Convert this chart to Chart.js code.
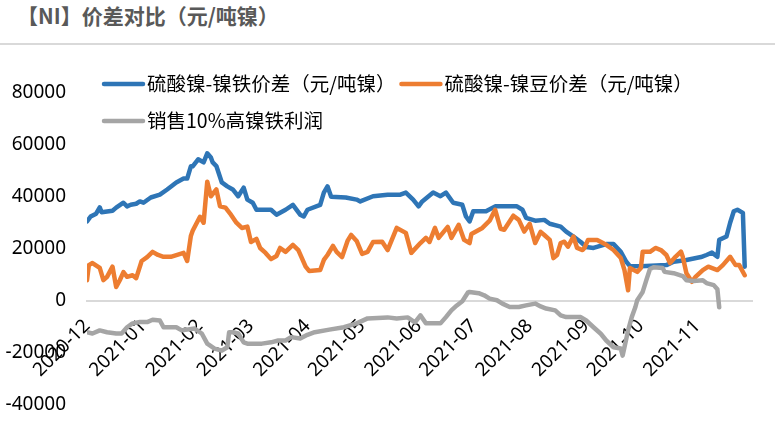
<!DOCTYPE html>
<html lang="zh">
<head>
    <meta charset="UTF-8">
    <title>【NI】价差对比（元/吨镍）</title>
    <script src="https://cdn.jsdelivr.net/npm/chart.js"></script>
    <style>
        body { margin: 0; background: #fff; }
        .head {
            height: 43px; line-height: 42px; padding-left: 17px;
            border-bottom: 2px solid #d9d9d9;
            font: bold 21px 'Noto Sans CJK SC', sans-serif; color: #595959;
        }
        #chart { display: block; }
    </style>
</head>
<body>
    <div class="head">【NI】价差对比（元/吨镍）</div>
    <canvas id="chart" width="775" height="401"></canvas>

    <script>
        // 数据
        const seriesNames = ['硫酸镍-镍铁价差（元/吨镍）', '硫酸镍-镍豆价差（元/吨镍）', '销售10%高镍铁利润'];
        const monthLabels = ['2020-12', '2021-01', '2021-02', '2021-03', '2021-04', '2021-05',
                             '2021-06', '2021-07', '2021-08', '2021-09', '2021-10', '2021-11'];
        const yTickValues = [-40000, -20000, 0, 20000, 40000, 60000, 80000];

        const ironDates = [
            '2020-12-01', '2020-12-03', '2020-12-06', '2020-12-08', '2020-12-09', '2020-12-15', '2020-12-17', '2020-12-21', '2020-12-23', '2020-12-25',
            '2020-12-28', '2020-12-30', '2021-01-01', '2021-01-05', '2021-01-10', '2021-01-14', '2021-01-19', '2021-01-23', '2021-01-25', '2021-01-27',
            '2021-01-28', '2021-01-31', '2021-02-03', '2021-02-05', '2021-02-07', '2021-02-08', '2021-02-10', '2021-02-13', '2021-02-16', '2021-02-19',
            '2021-02-22', '2021-02-25', '2021-02-27', '2021-03-02', '2021-03-04', '2021-03-12', '2021-03-15', '2021-03-20', '2021-03-24', '2021-03-28',
            '2021-03-30', '2021-04-01', '2021-04-08', '2021-04-10', '2021-04-12', '2021-04-14', '2021-04-22', '2021-04-28', '2021-04-30', '2021-05-07',
            '2021-05-15', '2021-05-22', '2021-05-25', '2021-05-29', '2021-06-01', '2021-06-03', '2021-06-09', '2021-06-13', '2021-06-16', '2021-06-20',
            '2021-06-25', '2021-06-27', '2021-06-29', '2021-07-01', '2021-07-08', '2021-07-13', '2021-07-25', '2021-07-28', '2021-07-30', '2021-08-04',
            '2021-08-09', '2021-08-12', '2021-08-18', '2021-08-21', '2021-08-25', '2021-08-29', '2021-09-01', '2021-09-05', '2021-09-12', '2021-09-16',
            '2021-09-20', '2021-09-23', '2021-09-25', '2021-10-01', '2021-10-15', '2021-10-19', '2021-10-26', '2021-11-03', '2021-11-06', '2021-11-09',
            '2021-11-12', '2021-11-13', '2021-11-17', '2021-11-19', '2021-11-21', '2021-11-23', '2021-11-26', '2021-11-27'
        ];
        const ironValues = [
            30600, 32500, 33600, 36000, 34100, 34700, 35900, 37800, 36400, 37000,
            37400, 38300, 37800, 39800, 40900, 42900, 45600, 47100, 47100, 51800,
            51800, 54500, 53300, 56800, 55200, 53300, 51900, 45600, 44100, 42900,
            40300, 43600, 39000, 37800, 35100, 35100, 33200, 35100, 37000, 33200,
            32500, 35100, 37000, 41700, 44100, 40100, 39800, 39000, 38300, 40300,
            40900, 40900, 41700, 39000, 36400, 38300, 41700, 40300, 41700, 37800,
            37000, 32500, 30600, 34500, 34500, 36400, 36400, 35100, 32000, 30900,
            31200, 29700, 28600, 26700, 24800, 22700, 20800, 20400, 21900, 21900,
            18900, 15100, 13400, 13400, 13800, 15100, 15800, 16900, 17700, 18600,
            17000, 23500, 24800, 30100, 34500, 35100, 33900, 13200
        ];

        const beanDates = [
            '2020-12-01', '2020-12-02', '2020-12-04', '2020-12-08', '2020-12-10', '2020-12-12', '2020-12-15', '2020-12-17', '2020-12-19', '2020-12-21',
            '2020-12-23', '2020-12-26', '2020-12-28', '2020-12-31', '2021-01-03', '2021-01-06', '2021-01-09', '2021-01-12', '2021-01-16', '2021-01-23',
            '2021-01-25', '2021-01-27', '2021-01-28', '2021-02-01', '2021-02-03', '2021-02-05', '2021-02-07', '2021-02-10', '2021-02-12', '2021-02-15',
            '2021-02-18', '2021-02-21', '2021-02-24', '2021-02-27', '2021-03-01', '2021-03-04', '2021-03-06', '2021-03-09', '2021-03-12', '2021-03-15',
            '2021-03-17', '2021-03-20', '2021-03-24', '2021-03-27', '2021-03-31', '2021-04-02', '2021-04-08', '2021-04-10', '2021-04-12', '2021-04-15',
            '2021-04-17', '2021-04-20', '2021-04-23', '2021-04-25', '2021-04-28', '2021-05-01', '2021-05-04', '2021-05-07', '2021-05-12', '2021-05-15',
            '2021-05-20', '2021-05-25', '2021-05-28', '2021-06-02', '2021-06-05', '2021-06-07', '2021-06-10', '2021-06-12', '2021-06-17', '2021-06-19',
            '2021-06-23', '2021-06-26', '2021-06-29', '2021-06-30', '2021-07-06', '2021-07-10', '2021-07-13', '2021-07-16', '2021-07-18', '2021-07-23',
            '2021-07-26', '2021-07-29', '2021-08-01', '2021-08-04', '2021-08-07', '2021-08-09', '2021-08-12', '2021-08-14', '2021-08-16', '2021-08-18',
            '2021-08-20', '2021-08-22', '2021-08-25', '2021-08-27', '2021-08-30', '2021-08-31', '2021-09-02', '2021-09-07', '2021-09-12', '2021-09-16',
            '2021-09-20', '2021-09-22', '2021-09-24', '2021-09-25', '2021-09-29', '2021-10-01', '2021-10-02', '2021-10-06', '2021-10-09', '2021-10-12',
            '2021-10-15', '2021-10-17', '2021-10-20', '2021-10-23', '2021-10-24', '2021-10-26', '2021-10-29', '2021-10-31', '2021-11-04', '2021-11-07',
            '2021-11-12', '2021-11-15', '2021-11-19', '2021-11-22', '2021-11-24', '2021-11-27'
        ];
        const beanValues = [
            8000, 13800, 14600, 12700, 8000, 9300, 13200, 5400, 8000, 11100,
            9300, 9900, 8800, 15400, 16900, 18900, 17700, 17000, 17000, 18500,
            15400, 25000, 27000, 32400, 30100, 45900, 40300, 42900, 36400, 35900,
            33200, 30100, 28100, 28600, 22700, 23900, 20400, 18500, 16100, 17300,
            20400, 18900, 21600, 19600, 13200, 11500, 11900, 15800, 17700, 21200,
            18900, 16900, 23100, 25400, 23100, 18100, 18900, 22700, 22800, 19600,
            28100, 26200, 18500, 22300, 24300, 22700, 28100, 24300, 28500, 24300,
            29300, 23500, 22300, 25800, 28100, 30900, 35100, 27800, 27400, 32800,
            31200, 26700, 29700, 22300, 26600, 25400, 23500, 16500, 17700, 22300,
            22800, 20900, 24800, 20400, 19600, 20400, 23500, 23500, 21600, 19600,
            16500, 11900, 4100, 12700, 11200, 12700, 18900, 18900, 20400, 19600,
            17700, 14600, 17000, 19000, 17000, 10700, 7400, 9300, 11900, 13200,
            11900, 13800, 17000, 13800, 13800, 9900
        ];

        const profitDates = [
            '2020-12-01', '2020-12-04', '2020-12-08', '2020-12-12', '2020-12-17', '2020-12-20', '2020-12-23', '2020-12-26', '2020-12-30', '2021-01-03',
            '2021-01-06', '2021-01-10', '2021-01-12', '2021-01-19', '2021-01-22', '2021-01-29', '2021-02-02', '2021-02-05', '2021-02-09', '2021-02-13',
            '2021-02-16', '2021-02-17', '2021-02-19', '2021-02-22', '2021-02-25', '2021-02-27', '2021-03-07', '2021-03-12', '2021-03-16', '2021-03-20',
            '2021-03-23', '2021-03-28', '2021-04-01', '2021-04-05', '2021-04-13', '2021-04-21', '2021-04-28', '2021-05-04', '2021-05-15', '2021-05-20',
            '2021-05-26', '2021-05-30', '2021-06-02', '2021-06-05', '2021-06-13', '2021-06-16', '2021-06-19', '2021-06-22', '2021-06-25', '2021-06-28',
            '2021-06-29', '2021-07-04', '2021-07-07', '2021-07-10', '2021-07-14', '2021-07-17', '2021-07-21', '2021-07-26', '2021-07-30', '2021-08-04',
            '2021-08-07', '2021-08-10', '2021-08-15', '2021-08-18', '2021-08-21', '2021-08-29', '2021-09-01', '2021-09-05', '2021-09-09', '2021-09-12',
            '2021-09-16', '2021-09-20', '2021-09-21', '2021-09-22', '2021-09-24', '2021-09-26', '2021-09-28', '2021-09-29', '2021-10-02', '2021-10-04',
            '2021-10-06', '2021-10-08', '2021-10-13', '2021-10-14', '2021-10-19', '2021-10-24', '2021-10-26', '2021-10-30', '2021-11-04', '2021-11-06',
            '2021-11-10', '2021-11-12', '2021-11-13'
        ];
        const profitValues = [
            -12000, -12500, -11300, -12000, -12500, -12500, -10100, -8600, -8100, -8100,
            -7200, -7500, -10100, -10100, -11300, -10600, -12500, -16400, -18300, -19100,
            -17800, -12000, -12000, -12500, -15900, -16400, -16400, -15900, -15200, -15200,
            -13900, -14400, -13000, -12000, -11000, -10100, -8600, -6700, -6300, -6700,
            -6300, -8200, -5500, -8600, -8600, -6200, -3600, -1700, -100, 3200,
            3500, 3000, 2200, 900, 300, -1000, -2300, -2300, -1700, -1000,
            -2100, -2900, -3600, -5500, -6200, -6200, -7500, -10100, -12600, -15200,
            -17800, -18300, -21000, -17800, -11300, -6200, -2300, 300, 3500, 8000,
            12300, 13000, 12700, 11200, 10700, 9600, 8000, 7700, 8000, 6900,
            6100, 4500, -2400
        ];

        // 日期 -> 距 2020-12-01 的天数
        const DAY = 86400000;
        const base = Date.UTC(2020, 11, 1);
        const dayOf = s => {
            const [y, m, d] = s.split('-').map(Number);
            return (Date.UTC(y, m - 1, d) - base) / DAY;
        };
        const toPoints = (dates, values) => dates.map((d, i) => ({ x: dayOf(d), y: values[i] }));
        const monthDays = monthLabels.map(m => dayOf(m + '-01'));

        const tickFont = { family: "'Noto Sans', sans-serif", size: 19 };

        // 图例画在绘图区内部（Excel 风格）
        const insideLegend = {
            id: 'insideLegend',
            afterDraw(chart) {
                const ctx = chart.ctx;
                const rows = [[0, 1], [2]];
                ctx.save();
                ctx.font = "19.5px 'Noto Sans CJK SC'";
                ctx.textBaseline = 'middle';
                rows.forEach((row, r) => {
                    let x = 102;
                    const y = 39 + r * 37;
                    row.forEach(i => {
                        const ds = chart.data.datasets[i];
                        ctx.strokeStyle = ds.borderColor;
                        ctx.lineWidth = 4.5;
                        ctx.lineCap = 'round';
                        ctx.beginPath();
                        ctx.moveTo(x + 2, y);
                        ctx.lineTo(x + 41, y);
                        ctx.stroke();
                        ctx.fillStyle = '#000';
                        ctx.fillText(ds.label, x + 45, y);
                        x += 45 + ctx.measureText(ds.label).width + 4;
                    });
                });
                ctx.restore();
            }
        };

        const lineStyle = { borderWidth: 4.5, pointRadius: 0, tension: 0, fill: false,
                            borderJoinStyle: 'round', borderCapStyle: 'round' };

        new Chart(document.getElementById('chart'), {
            type: 'line',
            data: {
                datasets: [
                    { label: seriesNames[0], data: toPoints(ironDates, ironValues), borderColor: '#2e75b6', order: 3, ...lineStyle },
                    { label: seriesNames[1], data: toPoints(beanDates, beanValues), borderColor: '#ed7d31', order: 2, ...lineStyle },
                    { label: seriesNames[2], data: toPoints(profitDates, profitValues), borderColor: '#a5a5a5', order: 1, ...lineStyle }
                ]
            },
            options: {
                responsive: false,
                animation: false,
                devicePixelRatio: 1,
                layout: { padding: { top: 48, bottom: 41, right: 23, left: 0 } },
                plugins: { legend: { display: false }, tooltip: { enabled: false } },
                scales: {
                    x: {
                        type: 'linear',
                        min: 0,
                        max: 365,
                        position: { y: 0 },
                        grid: { display: false, drawTicks: false },
                        border: { display: true, color: '#d9d9d9', width: 2 },
                        afterBuildTicks: s => { s.ticks = monthDays.map(v => ({ value: v })); },
                        afterFit: s => { s.paddingLeft = 0; s.paddingRight = 0; },
                        ticks: {
                            autoSkip: false,
                            minRotation: 45,
                            maxRotation: 45,
                            padding: 14,
                            color: '#000',
                            font: tickFont,
                            callback: (v, i) => monthLabels[i]
                        }
                    },
                    y: {
                        min: -40000,
                        max: 80000,
                        grid: { display: false, drawTicks: false },
                        border: { display: false },
                        afterBuildTicks: s => { s.ticks = yTickValues.map(v => ({ value: v })); },
                        afterFit: s => { s.width = 87; },
                        ticks: {
                            padding: 21,
                            color: '#000',
                            font: tickFont,
                            callback: v => String(v)
                        }
                    }
                }
            },
            plugins: [insideLegend]
        });
    </script>
</body>
</html>
